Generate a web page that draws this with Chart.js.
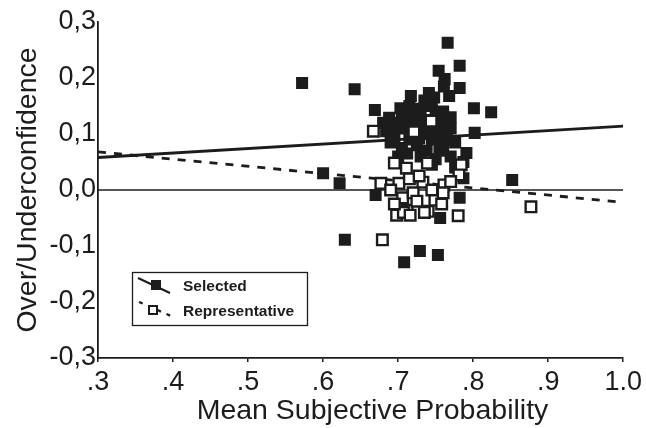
<!DOCTYPE html>
<html>
<head>
<meta charset="utf-8">
<script src="https://cdn.jsdelivr.net/npm/chart.js@4.4.1/dist/chart.umd.min.js"></script>
<style>
html,body{margin:0;padding:0;background:#fff;}
#wrap{width:646px;height:428px;}
</style>
</head>
<body>
<div id="wrap"><canvas id="c" width="646" height="428"></canvas></div>
<script>
// ---- data ----
const xTickLabels = ['.3','.4','.5','.6','.7','.8','.9','1.0'];
const yTickLabels = ['-0,3','-0,2','-0,1','0,0','0,1','0,2','0,3'];

const selectedX = [.572,.642,.600,.622,.629,.708,.729,.753,
  .766,.782,.754,.762,.761,.782,.717,.741,.768,.801,.824,.669,.703,.745,.688,.802,.684,.791,.787,.852,.782,.670,.756,.787,
  .700,.710,.720,.730,.740,.750,.760,.770,.715,.725,.735,.745,.755,.765,.705,.730,.750,.770,.740,.720,.760,.695,.712,.748,.776,.776,.700,.735,.758,.770,.725,.745,
  .705,.715,.725,.735,.745,.755,.765,.728,.738,.712,.760,.750,.695,.690,.680];
const selectedY = [.191,.180,.030,.012,-.089,-.129,-.109,-.116,
  .263,.222,.213,.198,.185,.182,.168,.173,.168,.146,.139,.143,.146,.155,.129,.102,.105,.066,.050,.018,-.014,-.009,-.050,.021,
  .120,.110,.130,.140,.150,.135,.120,.110,.090,.080,.100,.090,.075,.090,.075,.060,.055,.060,.115,.100,.140,.095,.140,.165,.085,.040,.060,.160,.100,.130,.115,.045,
  .130,.150,.145,.125,.105,.095,.105,.092,.070,.065,.070,.120,.115,.085,.120];

const representativeX = [.679,.877,.706,.698,.712,.740,.780,.749,.761,.733,.720,.701,.677,.667,.721,.744,.695,.711,.739,.784,.781,.725,.707,.760,.690,.715,.745,.770,.695,.735,.716,.758,.728];
const representativeY = [-.089,-.030,-.014,-.045,-.036,-.038,-.046,-.018,.009,.014,-.005,.012,.012,.105,.104,.123,.048,.039,.048,.045,.027,-.020,-.040,-.005,.000,.020,.000,.015,-.025,-.040,-.045,-.025,.025];

// regression lines (end points at x = .3 and x = 1.0)
const lineX = [0.3, 1.0];
const selectedFitY = [0.058, 0.114];
const representativeFitY = [0.068, -0.022];
const zeroY = [0, 0];

const seriesNames = ['Selected', 'Representative'];

const toPts = (xs, ys) => xs.map((x, i) => ({x: x, y: ys[i]}));
const INK = '#1c1c1c';
const FONT = "'Liberation Sans', Arial, sans-serif";

const legendPlugin = {
  id: 'boxLegend',
  afterDraw(chart) {
    const ctx = chart.ctx;
    ctx.save();
    ctx.strokeStyle = INK;
    ctx.lineWidth = 1.3;
    ctx.strokeRect(132.5, 272.5, 175, 53);
    // Selected sample
    ctx.lineWidth = 2.2;
    ctx.setLineDash([]);
    ctx.beginPath(); ctx.moveTo(138, 278); ctx.lineTo(170, 293); ctx.stroke();
    ctx.fillStyle = INK;
    ctx.fillRect(151, 280, 10, 10);
    // Representative sample
    ctx.setLineDash([4, 6]);
    ctx.beginPath(); ctx.moveTo(139, 302); ctx.lineTo(171, 316); ctx.stroke();
    ctx.setLineDash([]);
    ctx.fillStyle = '#fff';
    ctx.fillRect(148, 305, 10, 10);
    ctx.lineWidth = 2;
    ctx.strokeRect(149, 306, 8, 8);
    ctx.fillStyle = INK;
    ctx.font = "bold 15.5px " + FONT;
    ctx.textBaseline = 'middle';
    ctx.fillText(seriesNames[0], 183, 287);
    ctx.fillText(seriesNames[1], 183, 312);
    ctx.restore();
  }
};

new Chart(document.getElementById('c'), {
  type: 'scatter',
  data: {
    datasets: [
      {label: 'zero', type: 'line', data: toPts(lineX, zeroY), borderColor: INK, borderWidth: 1.5, pointRadius: 0, fill: false, order: 5},
      {label: seriesNames[0] + ' fit', type: 'line', data: toPts(lineX, selectedFitY), borderColor: INK, borderWidth: 2.8, pointRadius: 0, fill: false, order: 4},
      {label: seriesNames[1] + ' fit', type: 'line', data: toPts(lineX, representativeFitY), borderColor: INK, borderWidth: 2.8, borderDash: [8, 8], pointRadius: 0, fill: false, order: 3},
      {label: seriesNames[0], data: toPts(selectedX, selectedY), pointStyle: 'rect', pointRadius: 8.5, backgroundColor: INK, borderColor: INK, borderWidth: 0, order: 2},
      {label: seriesNames[1], data: toPts(representativeX, representativeY), pointStyle: 'rect', pointRadius: 7.5, backgroundColor: '#fff', borderColor: INK, borderWidth: 2.4, order: 1}
    ]
  },
  options: {
    responsive: false,
    animation: false,
    devicePixelRatio: 1,
    layout: {padding: {left: 0, top: 22, right: 18, bottom: 0}},
    plugins: {legend: {display: false}, tooltip: {enabled: false}},
    scales: {
      x: {
        type: 'linear', min: 0.3, max: 1.0,
        afterFit: s => { s.height = 70; },
        afterBuildTicks: s => { s.ticks = xTickLabels.map((t, i) => ({value: 0.3 + i * 0.1})); },
        ticks: {
          color: INK, padding: 4, maxRotation: 0, autoSkip: false,
          font: {family: FONT, size: 27},
          callback: (v, i) => xTickLabels[i]
        },
        grid: {drawOnChartArea: false, drawTicks: true, tickLength: 4, color: INK, lineWidth: 1.5},
        border: {display: true, color: INK, width: 1.8},
        title: {display: true, text: '\u00a0\u00a0\u00a0Mean Subjective Probability', color: INK, font: {family: FONT, size: 28.5}, padding: {top: 0, bottom: 0}}
      },
      y: {
        type: 'linear', min: -0.3, max: 0.3,
        afterFit: s => { s.width = 98; },
        afterBuildTicks: s => { s.ticks = yTickLabels.map((t, i) => ({value: -0.3 + i * 0.1})); },
        ticks: {
          color: INK, padding: 2, autoSkip: false,
          font: {family: FONT, size: 27},
          callback: (v, i) => yTickLabels[i]
        },
        grid: {drawOnChartArea: false, drawTicks: false, color: INK},
        border: {display: true, color: INK, width: 1.8},
        title: {display: true, text: 'Over/Underconfidence', color: INK, font: {family: FONT, size: 28.5}, padding: {top: 11, bottom: 0}}
      }
    }
  },
  plugins: [legendPlugin]
});
</script>
</body>
</html>
